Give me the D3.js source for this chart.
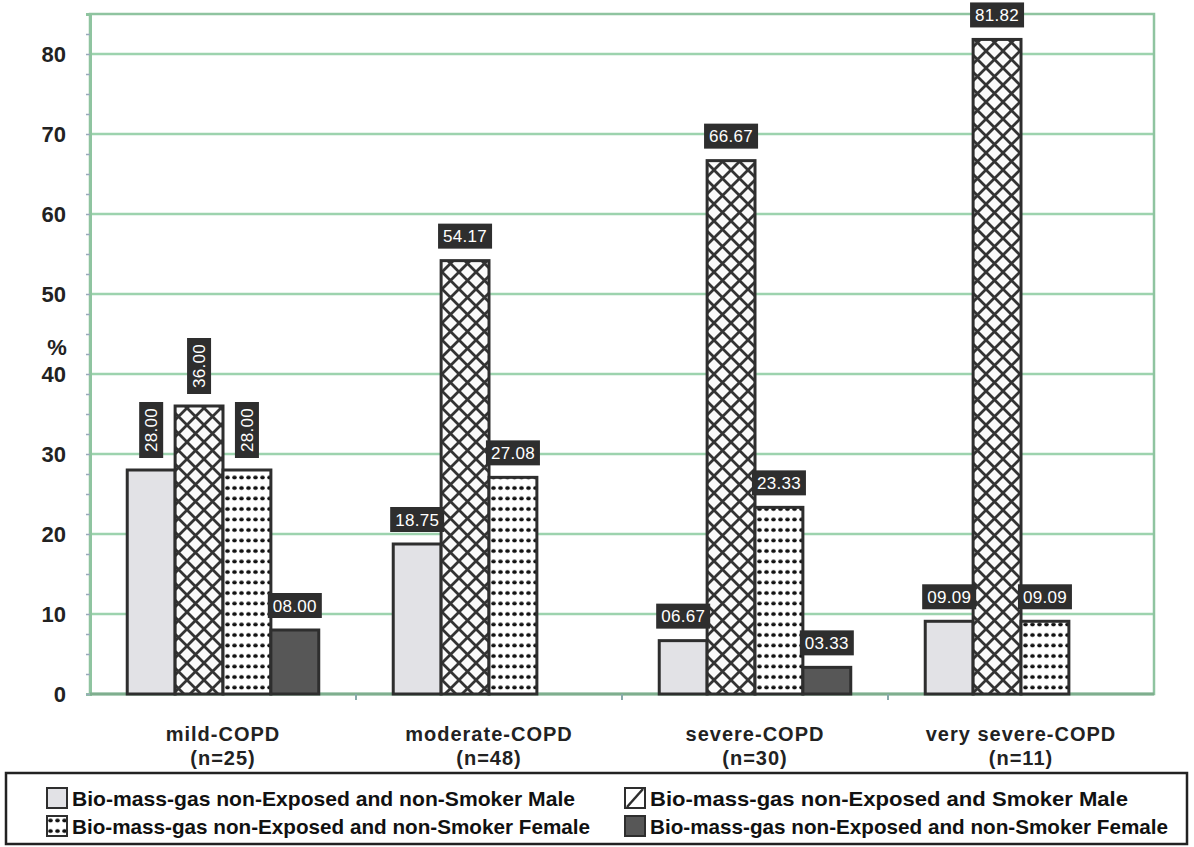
<html>
<head>
<title>COPD bar chart</title>
<style>
  body { margin: 0; background: #fff; }
  text { font-family: "Liberation Sans", Arial, sans-serif; }
</style>
</head>
<body>
<svg id="chart" width="1194" height="847"></svg>
<script src="https://d3js.org/d3.v7.min.js"></script>
<script>
// categories and sample sizes
let categories = ["mild-COPD", "moderate-COPD", "severe-COPD", "very severe-COPD"]
let counts = ["(n=25)", "(n=48)", "(n=30)", "(n=11)"]

// series names (legend)
let seriesNames = [
    "Bio-mass-gas non-Exposed and non-Smoker Male",
    "Bio-mass-gas non-Exposed and Smoker Male",
    "Bio-mass-gas non-Exposed and non-Smoker Female",
    "Bio-mass-gas non-Exposed and non-Smoker Female"
]

// percent values per series, one per category
let nonSmokerMale = [28.00, 18.75, 6.67, 9.09]
let smokerMale = [36.00, 54.17, 66.67, 81.82]
let nonSmokerFemale = [28.00, 27.08, 23.33, 9.09]
let nonSmokerFemale2 = [8.00, 0, 3.33, 0]

let yTicks = [0, 10, 20, 30, 40, 50, 60, 70, 80]

let seriesValues = [nonSmokerMale, smokerMale, nonSmokerFemale, nonSmokerFemale2]

let svg = d3.select("#chart")
let plotLeft = 90, plotRight = 1154, plotTop = 14, plotBottom = 694
let green = "#9dd3ae"
let dark = "#2e2e2e"

// patterns
let defs = svg.append("defs")
let cross = defs.append("pattern").attr("id", "cross")
    .attr("patternUnits", "userSpaceOnUse").attr("width", 17).attr("height", 17)
cross.append("rect").attr("width", 17).attr("height", 17).attr("fill", "#fafafa")
cross.append("path").attr("d", "M0,0L17,17M17,0L0,17M-2,15L2,19M15,-2L19,2")
    .attr("stroke", "#333").attr("stroke-width", 2.8)

let dots = defs.append("pattern").attr("id", "dots")
    .attr("patternUnits", "userSpaceOnUse").attr("width", 7).attr("height", 10.5)
dots.append("rect").attr("width", 7).attr("height", 10.5).attr("fill", "#fff")
dots.append("ellipse").attr("cx", 3.5).attr("cy", 5).attr("rx", 2.3).attr("ry", 1.9).attr("fill", "#111")

let fills = ["#e2e2e6", "url(#cross)", "url(#dots)", "#575757"]

let x0 = d3.scaleBand().domain(categories).range([plotLeft, plotRight])
    .paddingInner(0.28).paddingOuter(0.14)
let x1 = d3.scaleBand().domain(d3.range(4)).range([0, x0.bandwidth()])
let y = d3.scaleLinear().domain([0, 85]).range([plotBottom, plotTop])

// gridlines
svg.append("g").selectAll("line").data(yTicks.filter(d => d > 0)).join("line")
    .attr("x1", plotLeft).attr("x2", plotRight)
    .attr("y1", d => y(d)).attr("y2", d => y(d))
    .attr("stroke", green).attr("stroke-width", 2.5)

// plot border
svg.append("rect").attr("x", plotLeft).attr("y", plotTop)
    .attr("width", plotRight - plotLeft).attr("height", plotBottom - plotTop)
    .attr("fill", "none").attr("stroke", "#8fc4a0").attr("stroke-width", 2.5)

// y axis with minor ticks
let yAxis = svg.append("g").attr("transform", `translate(${plotLeft},0)`)
    .call(d3.axisLeft(y).tickValues(d3.range(0, 85, 2.5)).tickSize(4).tickFormat(""))
yAxis.select(".domain").attr("stroke", "#8fc4a0").attr("stroke-width", 3)
yAxis.selectAll(".tick line").attr("stroke", "#9ab").attr("stroke-width", 1.5)

svg.append("g").selectAll("text").data(yTicks).join("text")
    .attr("x", 66).attr("y", d => y(d) + 8)
    .attr("text-anchor", "end")
    .attr("font-size", 22).attr("font-weight", "bold").attr("fill", "#222")
    .text(d => d)

svg.append("text").attr("x", 57).attr("y", 355)
    .attr("text-anchor", "middle")
    .attr("font-size", 22).attr("font-weight", "bold").attr("fill", "#222")
    .text("%")

// bottom axis
let xAxis = svg.append("g").attr("transform", `translate(0,${plotBottom})`)
xAxis.append("line").attr("x1", plotLeft).attr("x2", plotRight)
    .attr("stroke", "#7fae8e").attr("stroke-width", 3)
xAxis.selectAll(".sep").data(d3.range(1, categories.length)).join("line")
    .attr("x1", i => plotLeft + i * x0.step()).attr("x2", i => plotLeft + i * x0.step())
    .attr("y1", 0).attr("y2", 6).attr("stroke", "#8aa").attr("stroke-width", 2)

let catLabels = svg.append("g").selectAll("text").data(categories).join("text")
    .attr("x", d => x0(d) + x0.bandwidth() / 2)
    .attr("text-anchor", "middle")
    .attr("font-size", 20).attr("font-weight", "bold").attr("fill", "#222")
    .attr("letter-spacing", 1)
catLabels.append("tspan").attr("x", d => x0(d) + x0.bandwidth() / 2).attr("y", 741).text(d => d)
catLabels.append("tspan").attr("x", d => x0(d) + x0.bandwidth() / 2).attr("y", 765).text((d, i) => counts[i])

// bars
let bars = []
seriesValues.forEach((vals, s) => {
    vals.forEach((v, c) => bars.push({ s: s, c: c, cat: categories[c], value: v }))
})
bars = bars.filter(d => d.value > 0)

svg.append("g").selectAll("rect").data(bars).join("rect")
    .attr("x", d => x0(d.cat) + x1(d.s))
    .attr("y", d => y(d.value))
    .attr("width", x1.bandwidth())
    .attr("height", d => y(0) - y(d.value))
    .attr("fill", d => fills[d.s])
    .attr("stroke", dark).attr("stroke-width", 3)

// value labels
let fmt = d3.format("05.2f")
let labels = svg.append("g").selectAll("g").data(bars).join("g")
    .attr("transform", d => {
        let cx = x0(d.cat) + x1(d.s) + x1.bandwidth() / 2
        return `translate(${cx},${y(d.value) - 12})`
    })
labels.each(function(d) {
    let g = d3.select(this)
    let rotated = d.c === 0 && d.value > 10
    if (rotated) {
        g.append("rect").attr("x", -12).attr("y", -56).attr("width", 24).attr("height", 56).attr("fill", dark)
        g.append("text").attr("transform", "translate(6,-28) rotate(-90)")
            .attr("text-anchor", "middle").attr("font-size", 17).attr("fill", "#fff")
            .attr("letter-spacing", 0.3).text(fmt(d.value))
    } else {
        g.append("rect").attr("x", -27).attr("y", -25).attr("width", 54).attr("height", 25).attr("fill", dark)
        g.append("text").attr("x", 0).attr("y", -6.5)
            .attr("text-anchor", "middle").attr("font-size", 17).attr("fill", "#fff")
            .attr("letter-spacing", 0.3).text(fmt(d.value))
    }
})

// legend
let legend = svg.append("g")
legend.append("rect").attr("x", 6).attr("y", 773).attr("width", 1181).attr("height", 71)
    .attr("fill", "#fff").attr("stroke", "#222").attr("stroke-width", 2.5)

let legPos = [[47, 798], [625, 798], [47, 826], [625, 826]]
let items = legend.selectAll(".item").data(seriesNames).join("g")
    .attr("transform", (d, i) => `translate(${legPos[i][0]},${legPos[i][1]})`)
items.append("rect").attr("x", 0).attr("y", -10).attr("width", 20).attr("height", 20)
    .attr("fill", (d, i) => i === 1 ? "#fff" : fills[i])
    .attr("stroke", dark).attr("stroke-width", 2)
items.filter((d, i) => i === 1).append("line")
    .attr("x1", 2).attr("y1", 9).attr("x2", 18).attr("y2", -9)
    .attr("stroke", dark).attr("stroke-width", 2.5)
items.append("text").attr("x", 25).attr("y", 8)
    .attr("font-size", 21).attr("font-weight", "bold").attr("fill", "#111")
    .attr("textLength", (d, i) => [503, 478, 518, 518][i])
    .attr("lengthAdjust", "spacingAndGlyphs")
    .text(d => d)
</script>
</body>
</html>
